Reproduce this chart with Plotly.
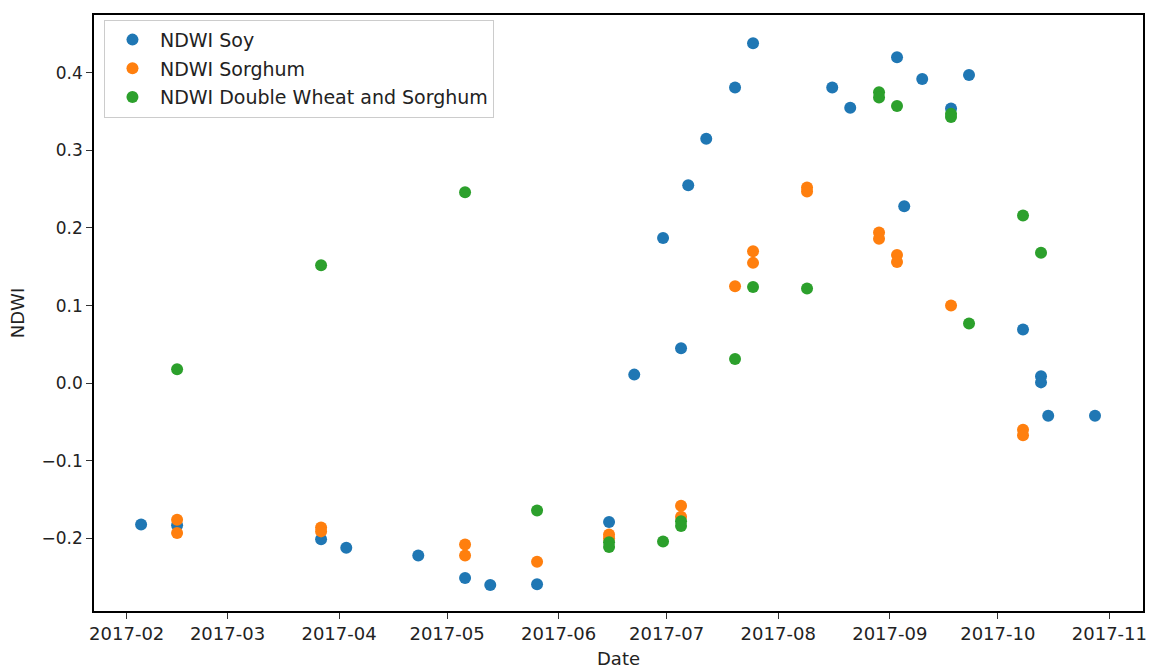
import plotly.graph_objects as go

# ---- data ----
soy_dates = ["2017-02-05", "2017-02-15", "2017-03-27", "2017-04-03", "2017-04-23",
             "2017-05-06", "2017-05-13", "2017-05-26", "2017-06-15", "2017-06-22",
             "2017-06-30", "2017-07-05", "2017-07-07", "2017-07-12", "2017-07-20",
             "2017-07-25", "2017-08-16", "2017-08-21", "2017-09-03", "2017-09-05",
             "2017-09-10", "2017-09-18", "2017-09-23", "2017-10-08", "2017-10-13",
             "2017-10-13", "2017-10-15", "2017-10-28"]
soy_ndwi = [-0.182, -0.183, -0.201, -0.212, -0.222,
            -0.251, -0.260, -0.259, -0.179, 0.011,
            0.187, 0.045, 0.255, 0.315, 0.381,
            0.438, 0.381, 0.355, 0.420, 0.228,
            0.392, 0.354, 0.397, 0.069, 0.009,
            0.001, -0.042, -0.042]

sorghum_dates = ["2017-02-15", "2017-02-15", "2017-03-27", "2017-03-27", "2017-05-06",
                 "2017-05-06", "2017-05-26", "2017-06-15", "2017-06-15", "2017-07-05",
                 "2017-07-05", "2017-07-20", "2017-07-25", "2017-07-25", "2017-08-09",
                 "2017-08-09", "2017-08-29", "2017-08-29", "2017-09-03", "2017-09-03",
                 "2017-09-18", "2017-10-08", "2017-10-08"]
sorghum_ndwi = [-0.176, -0.193, -0.186, -0.191, -0.208,
                -0.222, -0.230, -0.195, -0.200, -0.158,
                -0.172, 0.125, 0.170, 0.155, 0.252,
                0.247, 0.194, 0.186, 0.165, 0.156,
                0.100, -0.060, -0.067]

dws_dates = ["2017-02-15", "2017-03-27", "2017-05-06", "2017-05-26", "2017-06-15",
             "2017-06-15", "2017-06-30", "2017-07-05", "2017-07-05", "2017-07-20",
             "2017-07-25", "2017-08-09", "2017-08-29", "2017-08-29", "2017-09-03",
             "2017-09-18", "2017-09-18", "2017-09-23", "2017-10-08", "2017-10-13"]
dws_ndwi = [0.018, 0.152, 0.246, -0.164, -0.205,
            -0.211, -0.204, -0.178, -0.184, 0.031,
            0.124, 0.122, 0.375, 0.368, 0.357,
            0.347, 0.343, 0.077, 0.216, 0.168]

x_tick_vals = ["2017-02-01", "2017-03-01", "2017-04-01", "2017-05-01", "2017-06-01",
               "2017-07-01", "2017-08-01", "2017-09-01", "2017-10-01", "2017-11-01"]
x_tick_text = ["2017-02", "2017-03", "2017-04", "2017-05", "2017-06",
               "2017-07", "2017-08", "2017-09", "2017-10", "2017-11"]
y_tick_vals = [-0.2, -0.1, 0.0, 0.1, 0.2, 0.3, 0.4]
y_tick_text = ["\u22120.2", "\u22120.1", "0.0", "0.1", "0.2", "0.3", "0.4"]

FONT = "DejaVu Sans"
series = [
    ("NDWI Soy", soy_dates, soy_ndwi, "#1f77b4"),
    ("NDWI Sorghum", sorghum_dates, sorghum_ndwi, "#ff7f0e"),
    ("NDWI Double Wheat and Sorghum", dws_dates, dws_ndwi, "#2ca02c"),
]

fig = go.Figure()
for name, xs, ys, col in series:
    fig.add_trace(go.Scatter(
        x=xs, y=ys, mode="markers", name=name, legendgroup=name,
        marker=dict(size=12, color=col, line=dict(width=0)),
    ))

axis_common = dict(
    showline=True, linecolor="black", linewidth=1.5, mirror=True,
    ticks="outside", ticklen=6, tickwidth=1.2, tickcolor="#333",
    showgrid=False, zeroline=False,
)

fig.update_layout(
    width=1151, height=670,
    margin=dict(l=94, r=4, t=15, b=53),
    paper_bgcolor="white", plot_bgcolor="white",
    font=dict(family=FONT, size=18, color="#222"),
    showlegend=True,
    legend=dict(
        x=0.0095, y=0.992, xanchor="left", yanchor="top",
        bgcolor="rgba(255,255,255,0.8)", bordercolor="#cccccc", borderwidth=1,
        font=dict(family=FONT, size=19, color="#222"),
        tracegroupgap=1, itemwidth=45,
    ),
    xaxis=dict(
        axis_common, type="date",
        range=["2017-01-22 22:00", "2017-11-10 08:00"],
        tickvals=x_tick_vals, ticktext=x_tick_text,
        tickfont=dict(family=FONT, size=18, color="#222"),
        title=dict(text="Date", font=dict(family=FONT, size=18, color="#222"), standoff=9),
    ),
    yaxis=dict(
        axis_common,
        range=[-0.2936, 0.4744],
        tickvals=y_tick_vals, ticktext=y_tick_text,
        tickfont=dict(family=FONT, size=17, color="#222"),
        title=dict(text="NDWI", font=dict(family=FONT, size=18, color="#222"), standoff=12),
    ),
)

# remove the default page margin so the 1151x670 figure sits exactly in the window
fig.write_html(
    "out.html",
    config={"displayModeBar": False},
    post_script="document.body.style.margin='0';document.body.style.overflow='hidden';",
)
